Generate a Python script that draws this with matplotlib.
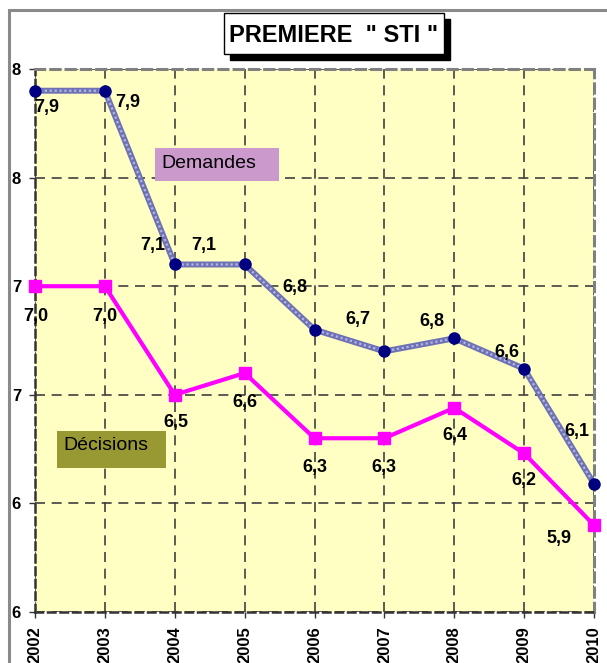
import matplotlib
matplotlib.use("Agg")
import matplotlib.pyplot as plt
from matplotlib.patches import Rectangle

# ---- data ----
years = [2002, 2003, 2004, 2005, 2006, 2007, 2008, 2009, 2010]
demandes = [7.9, 7.9, 7.1, 7.1, 6.8, 6.7, 6.76, 6.62, 6.09]
decisions = [7.0, 7.0, 6.5, 6.6, 6.3, 6.3, 6.44, 6.23, 5.9]
y_ticks = [8.0, 7.5, 7.0, 6.5, 6.0, 5.5]
y_tick_labels = ["8", "8", "7", "7", "6", "6"]
title = 'PREMIERE  " STI "'
name_dem = "Demandes"
name_dec = "Décisions"

# label offsets in pixels (dx, dy downwards)
off_dem = [(12, 17), (23, 12), (-22, -19), (-41, -19), (-20, -42),
           (-27, -32), (-22, -17), (-17, -16), (-17, -52)]
off_dec = [(1, 30), (0, 30), (1, 28), (0, 29), (0, 29), (0, 29),
           (1, 28), (0, 27), (-35, 13)]

plt.rcParams['font.family'] = ['Liberation Sans', 'DejaVu Sans']

W, H = 607, 663
fig = plt.figure(figsize=(W / 100, H / 100), dpi=100)
fig.patch.set_facecolor('white')

def fx(x):
    return x / W

def fy(y):
    return 1 - y / H

# outer frame
fig.add_artist(Rectangle((fx(9), fy(700)), fx(700), 690 / H, transform=fig.transFigure,
                         fill=False, edgecolor='#8a8a8a', linewidth=2.2, zorder=0))

ax = fig.add_axes([fx(35), fy(612), (594 - 35) / W, (612 - 69) / H])
ax.set_facecolor('#ffffc4')
ax.set_xlim(2002, 2010)
ax.set_ylim(5.5, 8.0)

# grid
for yv in y_ticks:
    ax.axhline(yv, color='#404040', lw=1.2, ls=(0, (6, 4)), zorder=1)
for xv in years:
    ax.axvline(xv, color='#404040', lw=1.2, ls=(0, (6, 4)), zorder=1)

for s in ['top', 'right']:
    ax.spines[s].set_color('#808080')
    ax.spines[s].set_linewidth(2.2)
    ax.spines[s].set_linestyle((0, (3, 2)))
for s in ['left', 'bottom']:
    ax.spines[s].set_color('#333333')
    ax.spines[s].set_linewidth(1.8)
    ax.spines[s].set_linestyle((0, (3, 2)))

ax.set_xticks(years)
ax.set_xticklabels([str(y) for y in years], rotation=90, fontweight='bold', fontsize=12, va='top')
ax.set_yticks(y_ticks)
ax.set_yticklabels(y_tick_labels, fontweight='bold', fontsize=12)
ax.tick_params(axis='both', length=4, width=1, color='#333333', pad=6, direction='out')

# Demandes line (textured look)
ax.plot(years, demandes, color='#6e72b4', lw=4.3, zorder=3, clip_on=False, solid_capstyle='round')
ax.plot(years, demandes, color='#b4b6e4', lw=1.6, ls=(0, (1, 1.2)), zorder=3.5, clip_on=False)
ax.plot(years, demandes, ls='none', marker='o', ms=8, color='#000080', zorder=4, clip_on=False)

# Décisions line
ax.plot(years, decisions, color='#ff00ff', lw=3, marker='s', ms=9, mfc='#ff00ff', mec='#ff00ff',
        zorder=3, clip_on=False)

for x, v, (dx, dy) in zip(years, demandes, off_dem):
    ax.annotate(f"{v:.1f}".replace('.', ','), (x, v), xytext=(dx, -dy), textcoords='offset pixels',
                ha='center', va='center', fontsize=13, fontweight='bold', zorder=6, annotation_clip=False)
for x, v, (dx, dy) in zip(years, decisions, off_dec):
    ax.annotate(f"{v:.1f}".replace('.', ','), (x, v), xytext=(dx, -dy), textcoords='offset pixels',
                ha='center', va='center', fontsize=13, fontweight='bold', zorder=6, annotation_clip=False)

# Title box with shadow
fig.add_artist(Rectangle((fx(230), fy(60)), (444 - 224) / W, (54 - 13) / H, transform=fig.transFigure,
                         facecolor='black', edgecolor='black', zorder=10))
fig.add_artist(Rectangle((fx(224), fy(54)), (444 - 224) / W, (54 - 13) / H, transform=fig.transFigure,
                         facecolor='white', edgecolor='black', lw=1, zorder=11))
fig.text(fx(334), fy(35), title, ha='center', va='center', fontsize=17, fontweight='bold', zorder=12)

# series name boxes
fig.add_artist(Rectangle((fx(155), fy(181)), (279 - 155) / W, (181 - 148) / H, transform=fig.transFigure,
                         facecolor='#cc99cc', edgecolor='none', zorder=10))
fig.text(fx(161), fy(163), name_dem, ha='left', va='center', fontsize=14, zorder=12)
fig.add_artist(Rectangle((fx(57), fy(468)), (166 - 57) / W, (468 - 431) / H, transform=fig.transFigure,
                         facecolor='#999933', edgecolor='none', zorder=10))
fig.text(fx(63), fy(446), name_dec, ha='left', va='center', fontsize=14, zorder=12)

fig.savefig('out.png', dpi=100)
